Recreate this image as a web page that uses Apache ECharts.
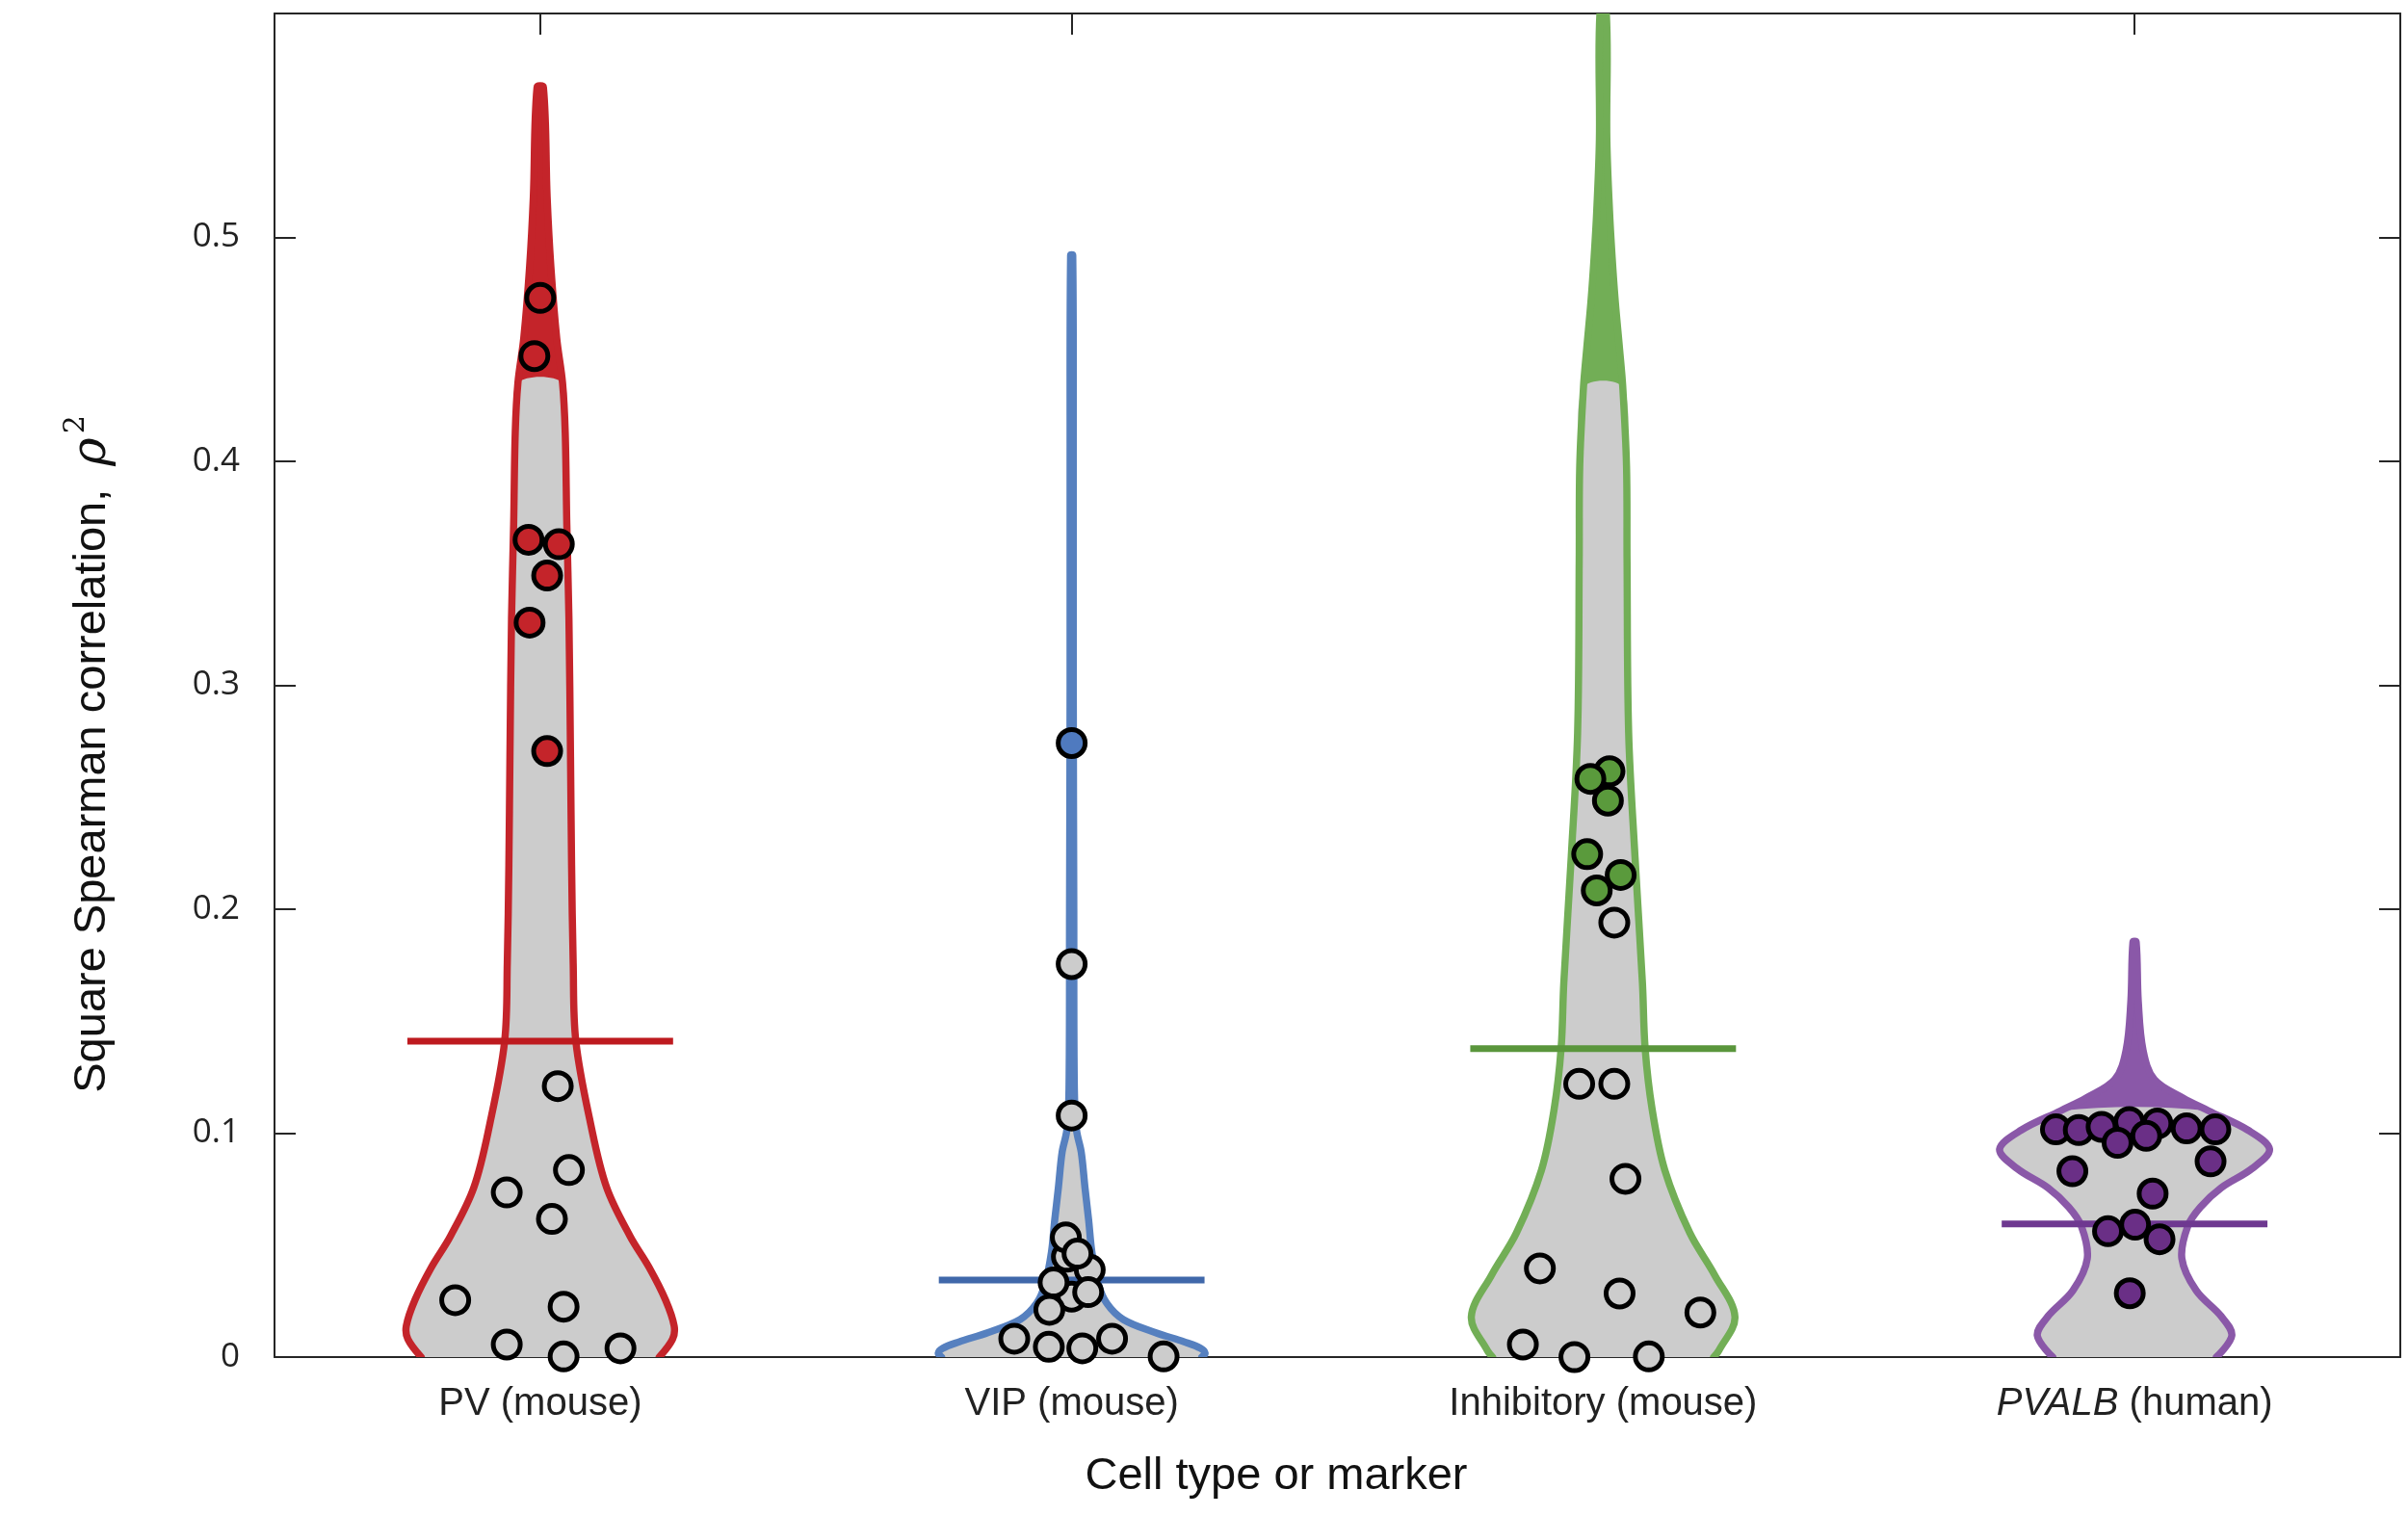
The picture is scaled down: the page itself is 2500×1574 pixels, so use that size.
<!DOCTYPE html>
<html>
<head>
<meta charset="utf-8">
<script src="https://cdn.jsdelivr.net/npm/echarts@6/dist/echarts.min.js"></script>
<style>
  html, body { margin: 0; padding: 0; background: #fff; }
  #chart { width: 2500px; height: 1574px; }
</style>
</head>
<body>
<div id="chart"></div>
<script>
// categories and tick labels
const catLabels = ['PV (mouse)', 'VIP (mouse)', 'Inhibitory (mouse)', '{it|PVALB} (human)'];
const catPos = [1, 2, 3, 4];
const yTicks = [0, 0.1, 0.2, 0.3, 0.4, 0.5];

// violin outlines: value levels and half widths (x units)
const pvY  = [0, 0.008, 0.0139, 0.0254, 0.040, 0.054, 0.0757, 0.104, 0.141, 0.176, 0.22, 0.268, 0.33, 0.372, 0.413, 0.435, 0.455, 0.487, 0.518, 0.567];
const pvW  = [0.224, 0.249, 0.252, 0.236, 0.205, 0.169, 0.125, 0.095, 0.067, 0.062, 0.059, 0.057, 0.054, 0.050, 0.047, 0.042, 0.031, 0.020, 0.013, 0.006];
const vipY = [0, 0.0017, 0.0039, 0.0068, 0.011, 0.0168, 0.024, 0.0327, 0.047, 0.061, 0.0757, 0.0915, 0.1015, 0.12, 0.2, 0.3, 0.4, 0.492];
const vipW = [0.245, 0.251, 0.243, 0.212, 0.157, 0.097, 0.066, 0.050, 0.038, 0.032, 0.025, 0.018, 0.009, 0.005, 0.004, 0.003, 0.003, 0.002];
const inhY = [0, 0.003, 0.018, 0.0366, 0.0555, 0.0835, 0.111, 0.138, 0.167, 0.2233, 0.279, 0.356, 0.398, 0.433, 0.450, 0.471, 0.491, 0.512, 0.544, 0.6];
const inhW = [0.208, 0.218, 0.248, 0.210, 0.163, 0.116, 0.092, 0.079, 0.074, 0.060, 0.048, 0.045, 0.044, 0.037, 0.031, 0.023, 0.017, 0.012, 0.007, 0.006];
const pvaY = [0, 0.0096, 0.0182, 0.0297, 0.044, 0.0584, 0.067, 0.0756, 0.0842, 0.0928, 0.1014, 0.110, 0.1157, 0.124, 0.137, 0.1588, 0.1853];
const pvaW = [0.154, 0.183, 0.163, 0.116, 0.089, 0.100, 0.124, 0.163, 0.221, 0.254, 0.213, 0.139, 0.091, 0.037, 0.016, 0.007, 0.003];
// where the grey fill stops
const grayTop = [0.435, 1, 0.433, 0.110];

// means
const means = [0.1411, 0.0344, 0.1377, 0.0595];
const meanHalf = 0.25;

// points: [x offset, value]; "hi" ones are coloured
const pvHi = [[0.0, 0.473], [-0.011, 0.447], [-0.022, 0.365], [0.035, 0.363], [0.013, 0.349], [-0.020, 0.328], [0.013, 0.2706]];
const pvLo = [[0.033, 0.121], [0.054, 0.0835], [-0.063, 0.0735], [0.022, 0.0617], [-0.160, 0.0254], [0.044, 0.0225], [-0.063, 0.0056], [0.044, 0.0003], [0.151, 0.0039]];
const vipHi = [[0, 0.2742]];
const vipLo = [[0, 0.1755], [0, 0.1079], [0, 0.027], [-0.009, 0.0448], [-0.011, 0.0534], [0.034, 0.039], [0.011, 0.0462], [-0.034, 0.0333], [0.031, 0.029], [-0.042, 0.0211], [-0.108, 0.0082], [-0.043, 0.0046], [0.020, 0.0039], [0.076, 0.0082], [0.173, 0.0003]];
const inhHi = [[0.012, 0.2616], [-0.024, 0.2582], [0.009, 0.2485], [-0.030, 0.2246], [0.033, 0.2153], [-0.012, 0.2084]];
const inhLo = [[0.021, 0.194], [-0.045, 0.122], [0.021, 0.122], [0.042, 0.0796], [-0.119, 0.0396], [0.031, 0.0284], [0.183, 0.0199], [-0.151, 0.0056], [-0.054, 0.0], [0.086, 0.0003]];
const pvaHi = [[-0.148, 0.1017], [-0.105, 0.1014], [-0.062, 0.1028], [-0.010, 0.105], [0.043, 0.1043], [0.098, 0.1021], [0.152, 0.1017], [-0.032, 0.0957], [0.022, 0.0988], [0.143, 0.0874], [-0.117, 0.083], [0.034, 0.073], [-0.050, 0.0562], [0.001, 0.0591], [0.047, 0.0526], [-0.009, 0.0285]];
const pvaLo = [];

const lineCol = ['#C4242A', '#5680BF', '#72AE56', '#8A58A8'];
const dotCol = ['#C4242A', '#4F7ABF', '#5A9A3C', '#6A2F86'];
const meanCol = ['#BE1A1F', '#4068AA', '#5A963C', '#6E3890'];
const gray = '#CCCCCC';

const shapes = [[pvY, pvW], [vipY, vipW], [inhY, inhW], [pvaY, pvaW]];
const hiPts = [pvHi, vipHi, inhHi, pvaHi];
const loPts = [pvLo, vipLo, inhLo, pvaLo];

function violinRender(k) {
    const ys = shapes[k][0], ws = shapes[k][1], c = catPos[k];
    return function (params, api) {
        const left = ys.map((y, i) => api.coord([c - ws[i], y]));
        const right = ys.map((y, i) => api.coord([c + ws[i], y])).reverse();
        const gl = [], gr = [];
        ys.forEach((y, i) => {
            if (y <= grayTop[k] + 1e-9) {
                gl.push(api.coord([c - ws[i], y]));
                gr.push(api.coord([c + ws[i], y]));
            }
        });
        return {
            type: 'group',
            children: [
                { type: 'polygon', shape: { points: left.concat(right), smooth: 0.35 },
                  style: { fill: lineCol[k], stroke: null } },
                { type: 'polygon', shape: { points: gl.concat(gr.reverse()), smooth: 0.35 },
                  style: { fill: gray, stroke: null } },
                { type: 'polyline', shape: { points: left.concat(right), smooth: 0.35 },
                  style: { fill: null, stroke: lineCol[k], lineWidth: 7.5, lineJoin: 'round', lineCap: 'round' } }
            ]
        };
    };
}

let myChart = echarts.init(document.getElementById('chart'), null, { renderer: 'canvas' });

let series = [];
for (let k = 0; k < 4; k++) {
    series.push({
        type: 'custom',
        xAxisIndex: 0, yAxisIndex: 0,
        renderItem: violinRender(k),
        data: [[catPos[k], 0]],
        clip: true,
        silent: true,
        z: 2
    });
}
for (let k = 0; k < 4; k++) {
    series.push({
        type: 'line',
        data: [[catPos[k] - meanHalf, means[k]], [catPos[k] + meanHalf, means[k]]],
        symbol: 'none',
        lineStyle: { color: meanCol[k], width: 7, cap: 'butt' },
        silent: true,
        z: 3
    });
}
for (let k = 0; k < 4; k++) {
    series.push({
        type: 'scatter',
        data: loPts[k].map(p => [catPos[k] + p[0], p[1]]),
        symbol: 'circle',
        symbolSize: 28,
        itemStyle: { color: gray, borderColor: '#000', borderWidth: 5, opacity: 1 },
        silent: true,
        z: 4
    });
    series.push({
        type: 'scatter',
        data: hiPts[k].map(p => [catPos[k] + p[0], p[1]]),
        symbol: 'circle',
        symbolSize: 28,
        itemStyle: { color: dotCol[k], borderColor: '#000', borderWidth: 5, opacity: 1 },
        silent: true,
        z: 5
    });
}

const axisCol = '#262626';
let option = {
    animation: false,
    backgroundColor: '#fff',
    grid: { left: 285, right: 8, top: 14, bottom: 165, containLabel: false },
    xAxis: [
        {
            type: 'value', position: 'bottom', min: 0.5, max: 4.5,
            splitLine: { show: false },
            axisLine: { show: true, onZero: false, lineStyle: { color: axisCol, width: 2 } },
            axisTick: { show: true, inside: true, length: 22, customValues: catPos, lineStyle: { color: axisCol, width: 2 } },
            axisLabel: {
                show: true, customValues: catPos, margin: 29,
                fontSize: 40, fontFamily: 'Liberation Sans', color: '#222',
                formatter: function (v) { return catLabels[Math.round(v) - 1] || ''; },
                rich: { it: { fontSize: 40, fontFamily: 'Liberation Sans', fontStyle: 'italic', color: '#222' } }
            }
        },
        {
            type: 'value', position: 'top', min: 0.5, max: 4.5,
            splitLine: { show: false },
            axisLine: { show: true, onZero: false, lineStyle: { color: axisCol, width: 2 } },
            axisTick: { show: true, inside: true, length: 22, customValues: catPos, lineStyle: { color: axisCol, width: 2 } },
            axisLabel: { show: false }
        }
    ],
    yAxis: [
        {
            type: 'value', position: 'left', min: 0, max: 0.6, interval: 0.1,
            splitLine: { show: false },
            axisLine: { show: true, onZero: false, lineStyle: { color: axisCol, width: 2 } },
            axisTick: { show: true, inside: true, length: 22, lineStyle: { color: axisCol, width: 2 } },
            axisLabel: {
                margin: 36, fontSize: 35, fontFamily: 'Open Sans', color: '#222',
                formatter: function (v) {
                    let r = Math.round(v * 10) / 10;
                    return yTicks.indexOf(r) >= 0 ? String(r) : '';
                }
            }
        },
        {
            type: 'value', position: 'right', min: 0, max: 0.6, interval: 0.1,
            splitLine: { show: false },
            axisLine: { show: true, onZero: false, lineStyle: { color: axisCol, width: 2 } },
            axisTick: { show: true, inside: true, length: 22, lineStyle: { color: axisCol, width: 2 } },
            axisLabel: { show: false }
        }
    ],
    graphic: [
        {
            type: 'text', x: 1325, y: 1533,
            style: {
                text: 'Cell type or marker', fontSize: 47, fontFamily: 'Liberation Sans',
                fill: '#111', align: 'center', verticalAlign: 'middle'
            }
        },
        {
            type: 'text', x: 96, y: 783, rotation: Math.PI / 2,
            style: {
                text: '{a|Square Spearman correlation,}{r|ρ}{s|2}',
                align: 'center', verticalAlign: 'middle',
                rich: {
                    a: { fontSize: 47, fontFamily: 'Liberation Sans', fill: '#111', lineHeight: 64 },
                    r: { fontSize: 50, fontFamily: 'DejaVu Serif', fontStyle: 'italic', fill: '#111', padding: [0, 0, 0, 24] },
                    s: { fontSize: 30, fontFamily: 'DejaVu Serif', fill: '#111', verticalAlign: 'top', padding: [0, 0, 0, 4] }
                }
            }
        }
    ],
    series: series
};

myChart.setOption(option);
</script>
</body>
</html>
